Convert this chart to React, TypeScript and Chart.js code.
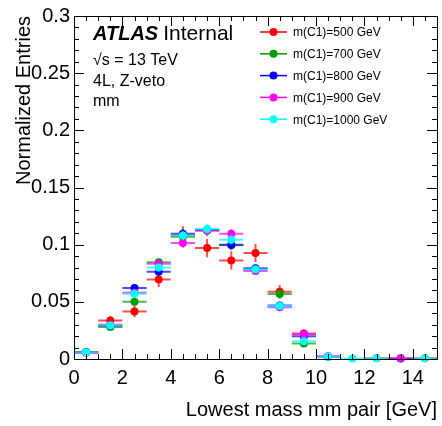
import React, { useEffect, useRef } from "react";
import { Chart, registerables } from "chart.js";
Chart.register(...registerables);

// ---- data ----
const binCenters = [0.5, 1.5, 2.5, 3.5, 4.5, 5.5, 6.5, 7.5, 8.5, 9.5, 10.5, 11.5, 12.5, 13.5, 14.5];
const binHalfWidth = 0.5;

const seriesLabels = ["m(C1)=500 GeV", "m(C1)=700 GeV", "m(C1)=800 GeV", "m(C1)=900 GeV", "m(C1)=1000 GeV"];
const seriesColors = ["#ff0000", "#009c00", "#0000ff", "#ff00ff", "#00ffff"];

const m500 = [0.006, 0.0337, 0.0415, 0.0695, 0.108, 0.097, 0.0862, 0.0927, 0.0588, 0.0222, null, null, 0.0006, null, 0.0006];
const m500Err = [0.002, 0.004, 0.005, 0.0065, 0.008, 0.008, 0.008, 0.0078, 0.006, 0.0035, 0, 0, 0.0008, 0, 0.0008];

const m700 = [0.0062, 0.028, 0.05, 0.0847, 0.107, 0.1125, 0.0994, 0.0785, 0.0568, 0.0136, null, null, null, null, null];
const m700Err = [0.001, 0.002, 0.003, 0.003, 0.004, 0.005, 0.004, 0.004, 0.003, 0.002, 0, 0, 0, 0, 0];

const m800 = [0.006, 0.029, 0.062, 0.0763, 0.1095, 0.113, 0.1, 0.0793, 0.0467, 0.02, 0.002, null, null, 0.0005, null];
const m800Err = [0.001, 0.002, 0.003, 0.003, 0.004, 0.004, 0.004, 0.003, 0.003, 0.002, 0.001, 0, 0, 0.0005, 0];

const m900 = [0.0055, 0.03, 0.058, 0.0832, 0.1014, 0.1125, 0.1095, 0.077, 0.0452, 0.0216, 0.0025, null, null, 0.0006, null];
const m900Err = [0.001, 0.002, 0.003, 0.003, 0.004, 0.004, 0.004, 0.003, 0.003, 0.002, 0.001, 0, 0, 0.0005, 0];

const m1000 = [0.0058, 0.0294, 0.057, 0.08, 0.108, 0.1138, 0.1043, 0.0784, 0.0464, 0.0156, 0.002, 0.0005, 0.0006, null, 0.0006];
const m1000Err = [0.001, 0.002, 0.003, 0.003, 0.004, 0.004, 0.004, 0.003, 0.003, 0.002, 0.001, 0.0005, 0.0005, 0, 0.0005];

const seriesValues = [m500, m700, m800, m900, m1000];
const seriesErrors = [m500Err, m700Err, m800Err, m900Err, m1000Err];

const xTickValues = [0, 2, 4, 6, 8, 10, 12, 14];
const xTickLabels = ["0", "2", "4", "6", "8", "10", "12", "14"];
const yTickValues = [0, 0.05, 0.1, 0.15, 0.2, 0.25, 0.3];
const yTickLabels = ["0", "0.05", "0.1", "0.15", "0.2", "0.25", "0.3"];

const xTitle = "Lowest mass mm pair [GeV]";
const yTitle = "Normalized Entries";

const FONT = "'Liberation Sans', Arial, Helvetica, sans-serif";

const errorBarPlugin = {
  id: "errorBars",
  beforeDatasetDraw(chart: any, args: any) {
    const i = args.index;
    const vals = seriesValues[i];
    const errs = seriesErrors[i];
    const xs = chart.scales.x;
    const ys = chart.scales.y;
    const ctx = chart.ctx;
    ctx.save();
    ctx.strokeStyle = seriesColors[i];
    ctx.globalAlpha = 0.7;
    ctx.lineWidth = 2;
    for (let k = 0; k < binCenters.length; k++) {
      const v = vals[k];
      if (v == null) continue;
      const xc = xs.getPixelForValue(binCenters[k]);
      const xl = xs.getPixelForValue(binCenters[k] - binHalfWidth);
      const xr = xs.getPixelForValue(binCenters[k] + binHalfWidth);
      const yc = ys.getPixelForValue(v);
      const yt = ys.getPixelForValue(v + errs[k]);
      const yb = ys.getPixelForValue(Math.max(0, v - errs[k]));
      ctx.beginPath();
      ctx.moveTo(xl, yc);
      ctx.lineTo(xr, yc);
      ctx.moveTo(xc, yt);
      ctx.lineTo(xc, yb);
      ctx.stroke();
    }
    ctx.restore();
  },
};

const framePlugin = {
  id: "rootFrame",
  afterDraw(chart: any) {
    const ctx = chart.ctx;
    const { left, right, top, bottom } = chart.chartArea;
    const xs = chart.scales.x;
    const ys = chart.scales.y;
    ctx.save();
    ctx.strokeStyle = "#000";
    ctx.lineWidth = 1;
    ctx.beginPath();
    ctx.rect(Math.round(left) + 0.5, Math.round(top) + 0.5, Math.round(right - left), Math.round(bottom - top));
    ctx.stroke();
    // x ticks (bottom & top)
    ctx.beginPath();
    for (let s = 0; s <= 30; s++) {
      const v = s * 0.5;
      const px = Math.round(xs.getPixelForValue(v)) + 0.5;
      const len = s % 4 === 0 ? 10 : 5;
      ctx.moveTo(px, bottom);
      ctx.lineTo(px, bottom - len);
      ctx.moveTo(px, top);
      ctx.lineTo(px, top + len);
    }
    // y ticks (left & right)
    for (let s = 0; s <= 30; s++) {
      const v = s * 0.01;
      const py = Math.round(ys.getPixelForValue(v)) + 0.5;
      const len = s % 5 === 0 ? 10 : 5;
      ctx.moveTo(left, py);
      ctx.lineTo(left + len, py);
      ctx.moveTo(right, py);
      ctx.lineTo(right - len, py);
    }
    ctx.stroke();

    // ATLAS label
    ctx.fillStyle = "#000";
    ctx.textBaseline = "alphabetic";
    ctx.textAlign = "left";
    ctx.font = `italic bold 20px ${FONT}`;
    ctx.fillText("ATLAS", 93, 40);
    const w = ctx.measureText("ATLAS").width;
    ctx.font = `21px ${FONT}`;
    ctx.fillText("Internal", 93 + w + 5, 40);
    ctx.font = `16px ${FONT}`;
    ctx.fillText("\u221As = 13 TeV", 93, 65);
    ctx.fillText("4L, Z-veto", 93, 86);
    ctx.fillText("mm", 93, 106);

    // legend
    ctx.font = `12px ${FONT}`;
    ctx.textBaseline = "middle";
    for (let i = 0; i < seriesLabels.length; i++) {
      const y = 32 + i * 21.8;
      ctx.strokeStyle = seriesColors[i];
      ctx.lineWidth = 1.5;
      ctx.beginPath();
      ctx.moveTo(260, y);
      ctx.lineTo(287, y);
      ctx.stroke();
      ctx.fillStyle = seriesColors[i];
      ctx.beginPath();
      ctx.arc(273.5, y, 4, 0, Math.PI * 2);
      ctx.fill();
      ctx.fillStyle = "#000";
      ctx.fillText(seriesLabels[i], 293, y + 1);
    }
    ctx.restore();
  },
};

export default function App() {
  const ref = useRef<HTMLCanvasElement>(null);
  useEffect(() => {
    if (!ref.current) return;
    const datasets = seriesValues.map((vals, i) => ({
      label: seriesLabels[i],
      data: binCenters
        .map((x, k) => ({ x, y: vals[k] }))
        .filter((p) => p.y != null),
      backgroundColor: seriesColors[i],
      borderColor: seriesColors[i],
      pointRadius: 4,
      pointBorderWidth: 0,
      showLine: false,
      clip: false as any,
      order: seriesValues.length - 1 - i,
    }));
    const chart = new Chart(ref.current, {
      type: "scatter",
      data: { datasets: datasets as any },
      options: {
        animation: false,
        responsive: false,
        events: [],
        layout: { padding: { top: 12, right: 5, left: 0, bottom: 0 } },
        plugins: { legend: { display: false }, tooltip: { enabled: false } },
        scales: {
          x: {
            type: "linear",
            min: 0,
            max: 15,
            afterBuildTicks: (scale: any) => {
              scale.ticks = xTickValues.map((v) => ({ value: v }));
            },
            afterFit: (scale: any) => {
              scale.height = 67;
            },
            ticks: {
              callback: (_v: any, idx: number) => xTickLabels[idx],
              font: { family: FONT, size: 20 },
              color: "#000",
              padding: 7,
              maxRotation: 0,
              autoSkip: false,
            },
            grid: { display: false, drawTicks: false },
            border: { display: false },
            title: {
              display: true,
              text: xTitle,
              align: "end",
              font: { family: FONT, size: 20 },
              color: "#000",
              padding: { top: 0, bottom: 4 },
            },
          },
          y: {
            type: "linear",
            min: 0,
            max: 0.3,
            afterBuildTicks: (scale: any) => {
              scale.ticks = yTickValues.map((v) => ({ value: v }));
            },
            afterFit: (scale: any) => {
              scale.width = 74;
            },
            ticks: {
              callback: (_v: any, idx: number) => yTickLabels[idx],
              font: { family: FONT, size: 20 },
              color: "#000",
              padding: 4,
              autoSkip: false,
            },
            grid: { display: false, drawTicks: false },
            border: { display: false },
            title: {
              display: true,
              text: yTitle,
              align: "end",
              font: { family: FONT, size: 20 },
              color: "#000",
              padding: { top: 12, bottom: 0 },
            },
          },
        },
      },
      plugins: [errorBarPlugin, framePlugin],
    } as any);
    return () => chart.destroy();
  }, []);
  return (
    <div style={{ position: "fixed", left: 0, top: 0, width: 442, height: 426, background: "#fff" }}>
      <canvas ref={ref} width={442} height={426} />
    </div>
  );
}
